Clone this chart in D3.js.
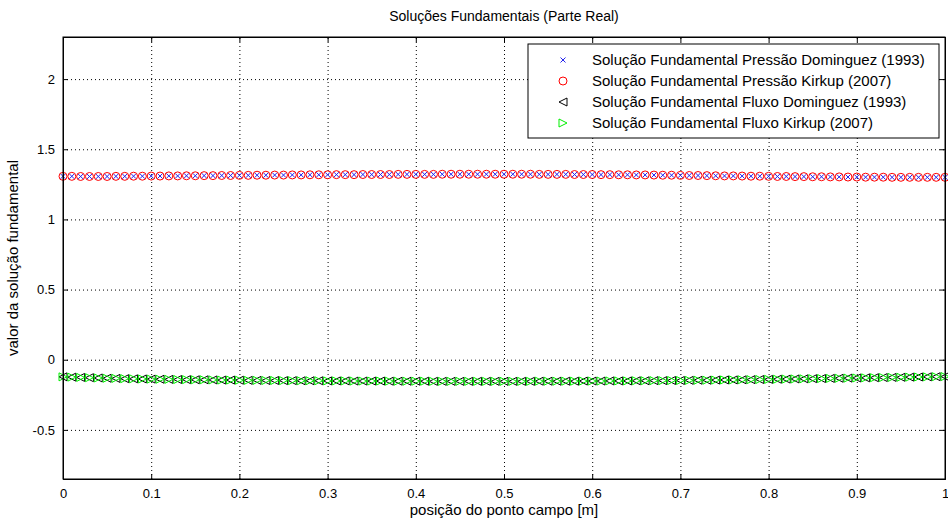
<!DOCTYPE html>
<html>
<head>
<meta charset="utf-8">
<script src="https://cdn.jsdelivr.net/npm/d3@7"></script>
<style>
  body { margin: 0; background: #fff; }
  svg { font-family: "Liberation Sans", Arial, sans-serif; }
  .tick text { font-size: 13px; fill: #000; }
  .grid line { stroke: #000; stroke-dasharray: 1,3; stroke-width: 1; }
  .grid path { display: none; }
</style>
</head>
<body>
<svg id="chart"></svg>
<script>
// campo points 0..1, step 0.01
const posicao = d3.range(0, 101).map(i => i / 100);

// real part, pressure fundamental solution
const pressaoDominguez = [
  1.307,1.307,1.306,1.306,1.306,1.306,1.307,1.307,1.308,1.308,1.309,
  1.309,1.310,1.310,1.311,1.311,1.312,1.312,1.313,1.313,1.314,
  1.314,1.315,1.315,1.316,1.316,1.317,1.317,1.318,1.318,1.318,
  1.319,1.319,1.319,1.320,1.320,1.320,1.320,1.321,1.321,1.321,
  1.321,1.321,1.322,1.322,1.322,1.322,1.322,1.322,1.322,1.322,
  1.322,1.322,1.322,1.321,1.321,1.321,1.321,1.320,1.320,1.320,
  1.319,1.319,1.318,1.318,1.317,1.317,1.316,1.315,1.315,1.314,
  1.313,1.313,1.312,1.311,1.310,1.310,1.309,1.308,1.308,1.307,
  1.306,1.306,1.305,1.305,1.304,1.304,1.303,1.303,1.302,1.302,
  1.301,1.301,1.301,1.300,1.300,1.300,1.300,1.300,1.300,1.300
];
const pressaoKirkup = pressaoDominguez.slice();

// real part, flux fundamental solution
const fluxoDominguez = [
  -0.122,-0.124,-0.126,-0.128,-0.130,-0.132,-0.133,-0.135,-0.136,-0.137,-0.138,
  -0.139,-0.140,-0.141,-0.142,-0.143,-0.143,-0.144,-0.145,-0.145,-0.146,
  -0.147,-0.147,-0.148,-0.148,-0.149,-0.149,-0.150,-0.150,-0.150,-0.151,
  -0.151,-0.151,-0.152,-0.152,-0.152,-0.152,-0.153,-0.153,-0.153,-0.153,
  -0.153,-0.154,-0.154,-0.154,-0.154,-0.154,-0.154,-0.154,-0.154,-0.154,
  -0.154,-0.154,-0.154,-0.153,-0.153,-0.153,-0.153,-0.153,-0.152,-0.152,
  -0.152,-0.151,-0.151,-0.151,-0.150,-0.150,-0.149,-0.149,-0.148,-0.148,
  -0.147,-0.146,-0.146,-0.145,-0.144,-0.144,-0.143,-0.142,-0.141,-0.140,
  -0.139,-0.138,-0.137,-0.136,-0.135,-0.134,-0.133,-0.132,-0.131,-0.130,
  -0.129,-0.128,-0.127,-0.126,-0.125,-0.124,-0.123,-0.122,-0.121,-0.120
];
const fluxoKirkup = fluxoDominguez.slice();

const xTicks = [0, 0.1, 0.2, 0.3, 0.4, 0.5, 0.6, 0.7, 0.8, 0.9, 1];
const yTicks = [-0.5, 0, 0.5, 1, 1.5, 2];
const legendLabels = [
  "Solução Fundamental Pressão Dominguez (1993)",
  "Solução Fundamental Pressão Kirkup (2007)",
  "Solução Fundamental Fluxo Dominguez (1993)",
  "Solução Fundamental Fluxo Kirkup (2007)"
];

const W = 948, H = 523;
const margin = { top: 37, right: 3, bottom: 44, left: 63 },
    width = W - margin.left - margin.right,
    height = H - margin.top - margin.bottom;

const svg = d3.select("#chart").attr("width", W).attr("height", H);

const x = d3.scaleLinear().domain([0, 1]).range([0, width]);
const y = d3.scaleLinear().domain([-0.85, 2.3]).range([height, 0]);

const g = svg.append("g")
    .attr("transform", "translate(" + margin.left + "," + margin.top + ")");

// dotted grid
g.append("g").attr("class", "grid")
    .attr("transform", "translate(0," + height + ")")
    .call(d3.axisBottom(x).tickValues(xTicks).tickSize(-height).tickFormat(""));
g.append("g").attr("class", "grid")
    .call(d3.axisLeft(y).tickValues(yTicks).tickSize(-width).tickFormat(""));

// series
const series = [
  { vals: pressaoDominguez, shape: "x", color: "#2222ee" },
  { vals: pressaoKirkup, shape: "o", color: "#ff0000" },
  { vals: fluxoDominguez, shape: "<", color: "#000000" },
  { vals: fluxoKirkup, shape: ">", color: "#00ee00" }
];

function markerPath(shape) {
  if (shape === "x") return "M-2.5,-2.5L2.5,2.5M-2.5,2.5L2.5,-2.5";
  if (shape === "<") return "M-4,0L4,-4L4,4Z";
  if (shape === ">") return "M4,0L-4,-4L-4,4Z";
  return null;
}

function drawMarker(sel, s) {
  if (s.shape === "o") {
    sel.append("circle").attr("r", 4)
      .attr("fill", "none").attr("stroke", s.color).attr("stroke-width", 1);
  } else {
    sel.append("path").attr("d", markerPath(s.shape))
      .attr("fill", "none").attr("stroke", s.color).attr("stroke-width", 1);
  }
}

series.forEach(s => {
  const pts = g.append("g").selectAll("g")
    .data(s.vals)
    .enter().append("g")
    .attr("transform", (d, i) => "translate(" + x(posicao[i]) + "," + y(d) + ")");
  drawMarker(pts, s);
});

// axes, ticks pointing inward, mirrored on top/right
g.append("g")
    .attr("transform", "translate(0," + height + ")")
    .call(d3.axisBottom(x).tickValues(xTicks).tickSize(-5).tickPadding(10).tickFormat(d => String(d)));
g.append("g")
    .call(d3.axisTop(x).tickValues(xTicks).tickSize(-5).tickFormat(""));
g.append("g")
    .call(d3.axisLeft(y).tickValues(yTicks).tickSize(-5).tickPadding(8).tickFormat(d => String(d)));
g.append("g")
    .attr("transform", "translate(" + width + ",0)")
    .call(d3.axisRight(y).tickValues(yTicks).tickSize(-5).tickFormat(""));

g.selectAll(".domain").attr("stroke", "#000");
g.selectAll(".tick line").attr("stroke", "#000");

// frame
g.append("rect").attr("width", width).attr("height", height)
    .attr("fill", "none").attr("stroke", "#000");

// legend
const leg = svg.append("g").attr("transform", "translate(528,44)");
leg.append("rect").attr("width", 411).attr("height", 94)
    .attr("fill", "#fff").attr("stroke", "#000");
legendLabels.forEach((lab, i) => {
  const row = leg.append("g").attr("transform", "translate(35," + (16 + i * 21) + ")");
  drawMarker(row, series[i]);
  row.append("text").attr("x", 29).attr("dy", "0.35em")
    .attr("font-size", "15px").text(lab);
});

// titles
svg.append("text").attr("x", margin.left + width / 2).attr("y", 21)
    .attr("text-anchor", "middle").attr("font-size", "14px")
    .text("Soluções Fundamentais (Parte Real)");
svg.append("text").attr("x", margin.left + width / 2).attr("y", 515)
    .attr("text-anchor", "middle").attr("font-size", "15px")
    .text("posição do ponto campo [m]");
svg.append("text")
    .attr("transform", "translate(18," + (margin.top + height / 2) + ") rotate(-90)")
    .attr("text-anchor", "middle").attr("font-size", "15px")
    .text("valor da solução fundamental");
</script>
</body>
</html>
